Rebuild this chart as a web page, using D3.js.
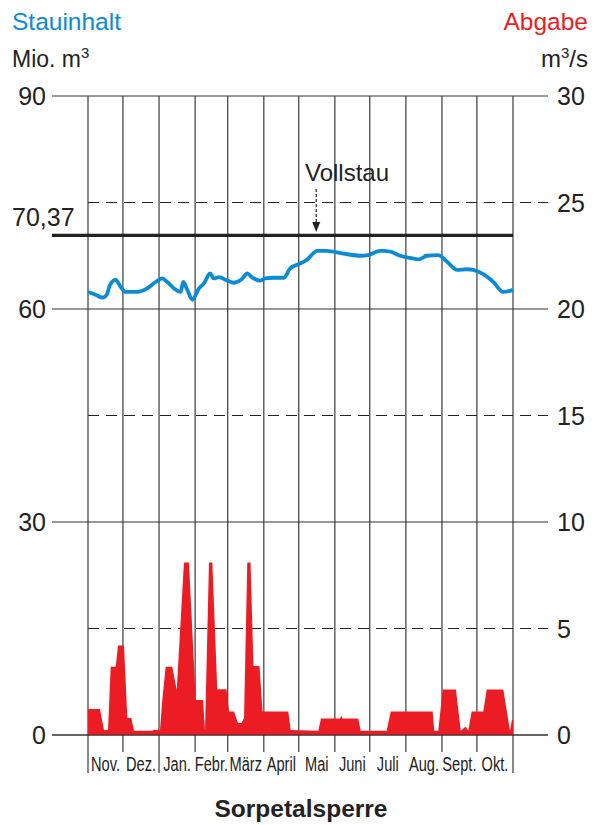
<!DOCTYPE html>
<html>
<head>
<meta charset="utf-8">
<script src="https://cdn.jsdelivr.net/npm/d3@7"></script>
<style>
  body { margin: 0; background: #fff; }
  text { font-family: "Liberation Sans", Arial, sans-serif; }
</style>
</head>
<body>
<div class="container"></div>
<script>
// months of the hydrological year, Nov - Okt
const months = ['Nov.', 'Dez.', 'Jan.', 'Febr.', 'März', 'April', 'Mai', 'Juni', 'Juli', 'Aug.', 'Sept.', 'Okt.'];
const monthDays = [30, 31, 31, 28, 31, 30, 31, 30, 31, 31, 30, 31];

const leftTicks = [0, 30, 60, 90];
const rightTicks = [0, 5, 10, 15, 20, 25, 30];
const vollstau = 70.37;

// Stauinhalt (Mio. m3), day since 1 Nov
const stauDays = [0, 6.6, 12.3, 16.1, 18.9, 23.8, 28.1, 32.4, 42.3, 50.9, 58.1, 63.8, 68.1, 73.9, 79.6, 81.8, 85.3, 89.6, 95.3, 99.6, 104.8, 108.2, 112.5, 119.6, 125.4, 127.7, 132, 136.8, 140.6, 147.7, 152, 159.1, 168.3, 173.5, 180.6, 187.8, 196.9, 205, 219.3, 235.1, 240.7, 250.8, 253.6, 259.4, 268, 276.5, 284.5, 290.9, 300.8, 308.1, 317.2, 325.2, 330.9, 339.5, 348.1, 356.7, 365];
const stauValues = [62.4, 62.0, 61.6, 62.0, 63.4, 64.1, 63.1, 62.4, 62.4, 62.9, 63.8, 64.3, 63.8, 62.9, 62.4, 63.8, 62.7, 61.3, 62.9, 63.6, 65.0, 64.3, 64.5, 64.0, 63.7, 63.8, 64.2, 65.0, 64.5, 64.0, 64.3, 64.4, 64.4, 65.7, 66.3, 66.9, 68.2, 68.2, 67.8, 67.5, 67.6, 68.2, 68.2, 68.1, 67.5, 67.2, 67.0, 67.5, 67.6, 66.7, 65.5, 65.6, 65.5, 64.9, 63.8, 62.4, 62.7];

// Abgabe (m3/s), day since 1 Nov
const abgDays = [0, 10.3, 13.7, 17.2, 19.5, 23.8, 25.8, 30.9, 33.8, 37.2, 39.5, 55, 56.7, 61.8, 63.8, 66.7, 72.4, 76.2, 82.4, 86.7, 92.5, 98.8, 100.5, 103.9, 106.8, 111, 119, 121.1, 125.4, 128.8, 131.8, 134, 136.8, 139.6, 142.1, 147.3, 149.9, 172, 174.1, 197.8, 200.1, 216.4, 217.5, 218.6, 232.1, 234.2, 256.5, 260, 296, 297.4, 300.8, 304.6, 316, 320.1, 324.4, 326.6, 329.5, 339.5, 342.4, 356.7, 362.4, 364.1, 365];
const abgValues = [1.22, 1.22, 0.23, 0.23, 3.2, 3.2, 4.2, 4.2, 0.8, 0.8, 0.2, 0.2, 0.25, 0.22, 1.64, 3.2, 3.2, 2.1, 8.1, 8.1, 1.64, 1.64, 0.2, 8.1, 8.1, 2.15, 2.15, 1.1, 1.1, 0.56, 0.56, 0.8, 8.1, 8.1, 3.24, 3.24, 1.1, 1.1, 0.23, 0.2, 0.78, 0.78, 0.9, 0.78, 0.78, 0.2, 0.2, 1.1, 1.1, 0.2, 0.2, 2.14, 2.14, 0.2, 0.4, 0.2, 1.1, 1.1, 2.14, 2.14, 0.2, 0.7, 0.7];

const blue = '#0b8bd3';
const red = '#ec1c24';
const ink = '#222';

const svg = d3.select('.container')
    .append('svg')
    .attr('width', 600)
    .attr('height', 825);

const x = d3.scaleLinear().domain([0, 365]).range([88, 513]);
const yL = d3.scaleLinear().domain([0, 90]).range([735, 96]);
const yR = d3.scaleLinear().domain([0, 30]).range([735, 96]);

// month boundaries
let bounds = [0];
monthDays.forEach(d => bounds.push(bounds[bounds.length - 1] + d));

// vertical month lines (year change and ends go a bit lower)
svg.selectAll('line.month')
    .data(bounds)
    .enter()
    .append('line')
    .attr('x1', d => x(d))
    .attr('x2', d => x(d))
    .attr('y1', yL(90))
    .attr('y2', (d, i) => (i == 0 || i == 2 || i == 12) ? 773 : 752)
    .attr('stroke', '#3a3a3a')
    .attr('stroke-width', 1.2);

// solid horizontal lines
svg.selectAll('line.hl')
    .data(leftTicks)
    .enter()
    .append('line')
    .attr('x1', 52)
    .attr('x2', 548)
    .attr('y1', d => yL(d))
    .attr('y2', d => yL(d))
    .attr('stroke', '#333')
    .attr('stroke-width', 1.2);

// dashed lines at 5, 15, 25
svg.selectAll('line.dash')
    .data(rightTicks.filter(d => d % 10 == 5))
    .enter()
    .append('line')
    .attr('x1', 88)
    .attr('x2', 548)
    .attr('y1', d => yR(d))
    .attr('y2', d => yR(d))
    .attr('stroke', ink)
    .attr('stroke-width', 1.2)
    .attr('stroke-dasharray', '11,7');

// Vollstau line
svg.append('line')
    .attr('x1', 52)
    .attr('x2', 513)
    .attr('y1', yL(vollstau))
    .attr('y2', yL(vollstau))
    .attr('stroke', ink)
    .attr('stroke-width', 3.2);

// Abgabe area
const abgData = abgDays.map((d, i) => ({ d: d, v: abgValues[i] }));
const area = d3.area()
    .x(d => x(d.d))
    .y0(yR(0))
    .y1(d => yR(d.v));

svg.append('path')
    .datum(abgData)
    .attr('d', area)
    .attr('fill', red);

// redraw base line over the area
svg.append('line')
    .attr('x1', 52)
    .attr('x2', 548)
    .attr('y1', yR(0))
    .attr('y2', yR(0))
    .attr('stroke', '#333')
    .attr('stroke-width', 1.2);

// Stauinhalt line
const stauData = stauDays.map((d, i) => ({ d: d, v: stauValues[i] }));
const line = d3.line()
    .x(d => x(d.d))
    .y(d => yL(d.v))
    .curve(d3.curveMonotoneX);

svg.append('path')
    .datum(stauData)
    .attr('d', line)
    .attr('fill', 'none')
    .attr('stroke', blue)
    .attr('stroke-width', 3.8)
    .attr('stroke-linejoin', 'round');

// axis labels
svg.selectAll('text.left')
    .data(leftTicks)
    .enter()
    .append('text')
    .attr('x', 46)
    .attr('y', d => yL(d) + 9)
    .attr('text-anchor', 'end')
    .attr('font-size', 25)
    .attr('fill', ink)
    .text(d => d);

svg.selectAll('text.right')
    .data(rightTicks)
    .enter()
    .append('text')
    .attr('x', 557)
    .attr('y', d => yR(d) + 9)
    .attr('font-size', 25)
    .attr('fill', ink)
    .text(d => d);

svg.append('text')
    .attr('x', 12)
    .attr('y', yL(vollstau) - 9)
    .attr('font-size', 25)
    .attr('fill', ink)
    .text(String(vollstau).replace('.', ','));

// month labels, condensed
svg.selectAll('text.month')
    .data(months)
    .enter()
    .append('text')
    .attr('transform', (d, i) => `translate(${(x(bounds[i]) + x(bounds[i + 1])) / 2},771) scale(0.75,1)`)
    .attr('text-anchor', 'middle')
    .attr('font-size', 19.5)
    .attr('font-family', '"Liberation Sans Narrow", "Arial Narrow", sans-serif')
    .attr('fill', ink)
    .text(d => d);

// headers
svg.append('text').attr('x', 12).attr('y', 30).attr('font-size', 24.5).attr('fill', blue).text('Stauinhalt');
svg.append('text').attr('x', 588).attr('y', 30).attr('font-size', 24.5).attr('fill', red)
    .attr('text-anchor', 'end').text('Abgabe');

const mio = svg.append('text').attr('x', 12).attr('y', 67).attr('font-size', 23).attr('fill', ink);
mio.append('tspan').text('Mio. m');
mio.append('tspan').attr('dy', -9).attr('font-size', 15).text('3');

const ms = svg.append('text').attr('x', 588).attr('y', 67).attr('font-size', 24).attr('fill', ink)
    .attr('text-anchor', 'end');
ms.append('tspan').text('m');
ms.append('tspan').attr('dy', -9).attr('font-size', 15).text('3');
ms.append('tspan').attr('dy', 9).text('/s');

// Vollstau marker
const vx = x(196);
svg.append('text')
    .attr('x', 347)
    .attr('y', 181)
    .attr('text-anchor', 'middle')
    .attr('font-size', 24)
    .attr('fill', ink)
    .text('Vollstau');

svg.append('line')
    .attr('x1', vx).attr('x2', vx)
    .attr('y1', 189).attr('y2', 224)
    .attr('stroke', ink)
    .attr('stroke-width', 1.2)
    .attr('stroke-dasharray', '3,2');

svg.append('path')
    .attr('d', `M${vx - 4},222 L${vx + 4},222 L${vx},232 Z`)
    .attr('fill', ink);

// title
svg.append('text')
    .attr('x', 301)
    .attr('y', 817)
    .attr('text-anchor', 'middle')
    .attr('font-size', 24.5)
    .attr('font-weight', 'bold')
    .attr('fill', ink)
    .text('Sorpetalsperre');
</script>
</body>
</html>
